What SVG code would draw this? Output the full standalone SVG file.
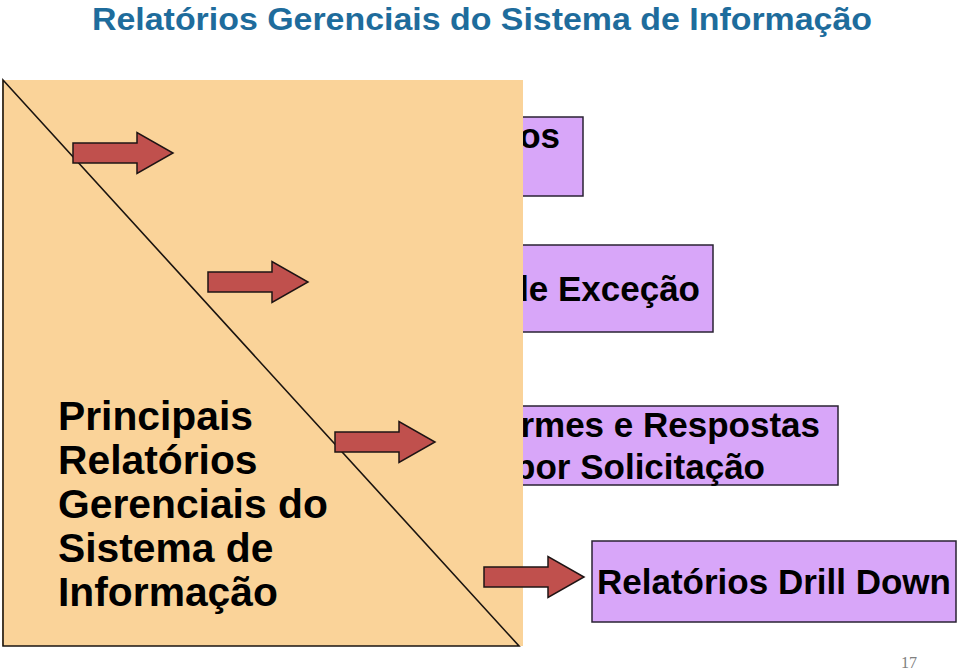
<svg xmlns="http://www.w3.org/2000/svg" xmlns:xlink="http://www.w3.org/1999/xlink" width="960" height="672" viewBox="0 0 960 672">
  <defs>
    <style>
      .box { fill: #D8A6F9; stroke: #2A2233; stroke-width: 1.5; }
      .btxt { font-family: "Liberation Sans", Arial, sans-serif; font-weight: bold; font-size: 35px; fill: #000; }
      .arrow { fill: #C0504D; stroke: #1E1414; stroke-width: 1.5; stroke-linejoin: miter; }
      .main { font-family: "Liberation Sans", Arial, sans-serif; font-weight: bold; font-size: 40.8px; fill: #000; }
    </style>
    <path id="blockArrow" class="arrow" d="M0,-10 H64 V-20.5 L100,0 L64,20.5 V10 H0 Z"/>
  </defs>
  <rect width="960" height="672" fill="#FFFFFF"/>

  <text x="482" y="30" text-anchor="middle" textLength="780" lengthAdjust="spacingAndGlyphs" font-family="'Liberation Sans', Arial, sans-serif" font-weight="bold" font-size="32" fill="#1E6C9C">Relatórios Gerenciais do Sistema de Informação</text>

  <g id="box-periodicos">
    <rect class="box" x="178" y="117" width="405" height="79"/>
    <text class="btxt" x="560" y="148" text-anchor="end">os</text>
  </g>
  <g id="box-excecao">
    <rect class="box" x="314" y="245" width="399" height="87"/>
    <text class="btxt" x="700" y="301" text-anchor="end">de Exceção</text>
  </g>
  <g id="box-informes">
    <rect class="box" x="440" y="406" width="398" height="79"/>
    <text class="btxt" x="820" y="437" text-anchor="end">rmes e Respostas</text>
    <text class="btxt" x="765" y="479" text-anchor="end">por Solicitação</text>
  </g>
  <g id="box-drilldown">
    <rect class="box" x="592" y="541" width="364" height="81"/>
    <text class="btxt" x="774" y="594" text-anchor="middle">Relatórios Drill Down</text>
  </g>

  <g id="principais">
    <rect x="2" y="80" width="521" height="566" fill="#FAD399"/>
    <polygon points="3,80 3,646 519,646" fill="none" stroke="#1A1410" stroke-width="1.6"/>
    <text class="main" x="58" y="430">Principais</text>
    <text class="main" x="58" y="474">Relatórios</text>
    <text class="main" x="58" y="518">Gerenciais do</text>
    <text class="main" x="58" y="562">Sistema de</text>
    <text class="main" x="58" y="606">Informação</text>
  </g>

  <g id="connectors">
    <use xlink:href="#blockArrow" href="#blockArrow" transform="translate(73,153)"/>
    <use xlink:href="#blockArrow" href="#blockArrow" transform="translate(208,282)"/>
    <use xlink:href="#blockArrow" href="#blockArrow" transform="translate(335,442)"/>
    <use xlink:href="#blockArrow" href="#blockArrow" transform="translate(484,577)"/>
  </g>

  <text x="917" y="668" text-anchor="end" font-family="'Liberation Serif', 'Times New Roman', serif" font-size="16" fill="#808080">17</text>
</svg>
